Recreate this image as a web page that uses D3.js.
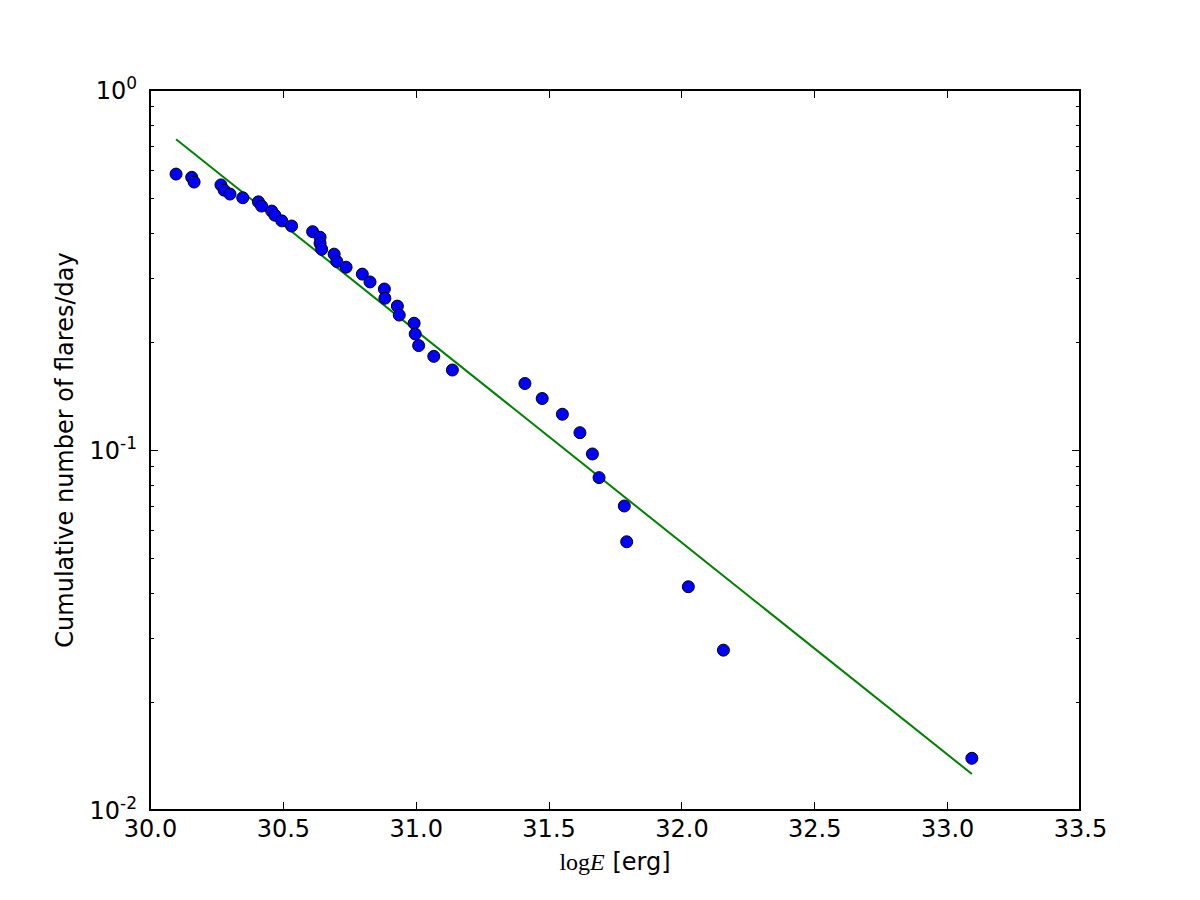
<!DOCTYPE html>
<meta charset="utf-8">
<style>
    body {
        margin: 0;
        background-color: #ffffff;
    }

    .axis text {
        font: 24px "DejaVu Sans", sans-serif;
        fill: #000;
    }

    .axis path {
        display: none;
    }

    .axis line {
        stroke: #000;
        stroke-width: 1px;
        shape-rendering: crispEdges;
    }

    .label {
        font: 24px "DejaVu Sans", sans-serif;
        fill: #000;
    }
</style>

<body>
    <svg width="1200" height="900"></svg>
    <script src="https://d3js.org/d3.v7.min.js"></script>
    <script>
        // log E [erg] of each flare
        var logE = [30.098, 30.157, 30.166, 30.267, 30.279, 30.301, 30.349, 30.408, 30.420, 30.458,
            30.470, 30.496, 30.533, 30.612, 30.640, 30.640, 30.646, 30.693, 30.703, 30.738,
            30.799, 30.828, 30.882, 30.884, 30.931, 30.938, 30.994, 30.998, 31.011, 31.068,
            31.138, 31.411, 31.476, 31.552, 31.618, 31.665, 31.690, 31.785, 31.794, 32.026,
            32.158, 33.093];

        // cumulative number of flares per day
        var cumRate = [0.584, 0.572, 0.555, 0.545, 0.527, 0.514, 0.502, 0.489, 0.476, 0.461,
            0.449, 0.433, 0.419, 0.404, 0.390, 0.375, 0.361, 0.350, 0.334, 0.322,
            0.308, 0.293, 0.280, 0.264, 0.251, 0.237, 0.225, 0.210, 0.195, 0.182,
            0.1668, 0.153, 0.139, 0.1257, 0.1117, 0.0975, 0.0838, 0.0699, 0.0556, 0.0417,
            0.0278, 0.01392];

        // power-law fit, end points
        var fitE = [30.098, 33.093];
        var fitRate = [0.7296, 0.01259];

        var xTicks = [30.0, 30.5, 31.0, 31.5, 32.0, 32.5, 33.0, 33.5];
        var yMajor = [0.01, 0.1, 1];
        var yExp = ["-2", "-1", "0"];
        var yMinor = [0.02, 0.03, 0.04, 0.05, 0.06, 0.07, 0.08, 0.09,
            0.2, 0.3, 0.4, 0.5, 0.6, 0.7, 0.8, 0.9];

        var svg = d3.select("svg"),
            margin = { top: 90, right: 120, bottom: 90, left: 150 },
            width = +svg.attr("width") - margin.left - margin.right,
            height = +svg.attr("height") - margin.top - margin.bottom;

        var x = d3.scaleLinear().domain([30, 33.5]).range([0, width]);
        var y = d3.scaleLog().domain([0.01, 1]).range([height, 0]);

        var g = svg.append("g")
            .attr("transform", "translate(" + margin.left + "," + margin.top + ")");

        // x axis, bottom with labels, top ticks only
        g.append("g")
            .attr("class", "axis")
            .attr("transform", "translate(0," + height + ")")
            .call(d3.axisBottom(x).tickValues(xTicks).tickFormat(d3.format(".1f"))
                .tickSizeInner(-8).tickSizeOuter(0).tickPadding(10));

        g.append("g")
            .attr("class", "axis")
            .call(d3.axisTop(x).tickValues(xTicks).tickFormat("")
                .tickSizeInner(-8).tickSizeOuter(0));

        // y axis, major + minor ticks on both sides
        g.append("g")
            .attr("class", "axis")
            .call(d3.axisLeft(y).tickValues(yMajor).tickFormat("").tickSizeInner(-8).tickSizeOuter(0));
        g.append("g")
            .attr("class", "axis")
            .call(d3.axisLeft(y).tickValues(yMinor).tickFormat("").tickSizeInner(-4).tickSizeOuter(0));
        g.append("g")
            .attr("class", "axis")
            .attr("transform", "translate(" + width + ",0)")
            .call(d3.axisRight(y).tickValues(yMajor).tickFormat("").tickSizeInner(-8).tickSizeOuter(0));
        g.append("g")
            .attr("class", "axis")
            .attr("transform", "translate(" + width + ",0)")
            .call(d3.axisRight(y).tickValues(yMinor).tickFormat("").tickSizeInner(-4).tickSizeOuter(0));

        // y tick labels 10^n
        var ylab = g.selectAll(".ylab")
            .data(yMajor)
            .enter().append("text")
            .attr("class", "label")
            .attr("x", -13)
            .attr("y", function (d) { return y(d) + 9; })
            .attr("text-anchor", "end");
        ylab.append("tspan").text("10");
        ylab.append("tspan")
            .attr("dy", -10)
            .style("font-size", "17px")
            .text(function (d, i) { return yExp[i]; });

        // fit line
        var fit = fitE.map(function (e, i) { return [e, fitRate[i]]; });
        g.append("path")
            .datum(fit)
            .attr("fill", "none")
            .attr("stroke", "#008000")
            .attr("stroke-width", 2)
            .attr("d", d3.line()
                .x(function (d) { return x(d[0]); })
                .y(function (d) { return y(d[1]); }));

        // flares
        g.selectAll(".dot")
            .data(logE)
            .enter().append("circle")
            .attr("cx", function (d) { return x(d); })
            .attr("cy", function (d, i) { return y(cumRate[i]); })
            .attr("r", 6)
            .attr("fill", "#0000ff")
            .attr("stroke", "#000")
            .attr("stroke-width", 1);

        // frame
        g.append("rect")
            .attr("width", width)
            .attr("height", height)
            .attr("fill", "none")
            .attr("stroke", "#000")
            .attr("stroke-width", 2);

        // axis labels
        var xl = svg.append("text")
            .attr("class", "label")
            .attr("x", margin.left + width / 2)
            .attr("y", 870)
            .attr("text-anchor", "middle");
        xl.append("tspan")
            .style("font-family", "'Liberation Serif', serif")
            .text("log");
        xl.append("tspan")
            .style("font-family", "'Liberation Serif', serif")
            .style("font-style", "italic")
            .text("E");
        xl.append("tspan").text(" [erg]");

        svg.append("text")
            .attr("class", "label")
            .attr("transform", "translate(73," + (margin.top + height / 2) + ") rotate(-90)")
            .attr("text-anchor", "middle")
            .text("Cumulative number of flares/day");
    </script>
</body>
